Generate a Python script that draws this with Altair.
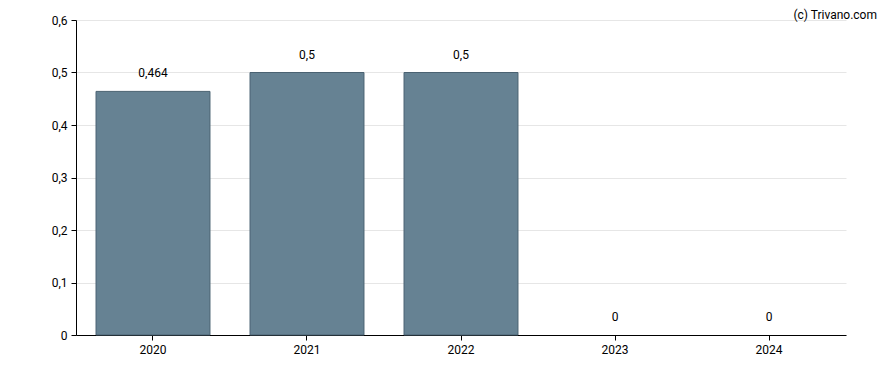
import altair as alt
import pandas as pd

years = ["2020", "2021", "2022", "2023", "2024"]
values = [0.464, 0.5, 0.5, 0, 0]
y_ticks = [0, 0.1, 0.2, 0.3, 0.4, 0.5, 0.6]

df = pd.DataFrame({"year": years, "value": values})

FONT = "Roboto"

base = alt.Chart(df)

bars = base.mark_bar(color="#668293", stroke="#4a6272").encode(
    x=alt.X("year:N", sort=years, title=None,
            scale=alt.Scale(paddingInner=0.26, paddingOuter=0.13),
            axis=alt.Axis(labelAngle=0, domainColor="#000000", tickColor="#000000",
                          tickSize=5, labelPadding=4, labelFont=FONT, labelFontSize=12,
                          labelColor="#000000", grid=False)),
    y=alt.Y("value:Q", title=None,
            scale=alt.Scale(domain=[0, 0.6], nice=False),
            axis=alt.Axis(values=y_ticks, domainColor="#000000", tickColor="#000000",
                          tickSize=5, labelPadding=4, labelFont=FONT, labelFontSize=12,
                          labelColor="#000000", gridColor="#e6e6e6",
                          labelExpr="datum.value == 0 ? '0' : replace(format(datum.value, '.1f'), '.', ',')")),
    strokeWidth=alt.condition("datum.value > 0", alt.value(1), alt.value(0)),
)

labels = base.transform_calculate(
    lbl="replace(toString(datum.value), '.', ',')"
).mark_text(baseline="bottom", dy=-11, font=FONT, fontSize=12, color="#000000").encode(
    x=alt.X("year:N", sort=years),
    y=alt.Y("value:Q"),
    text="lbl:N",
)

credit = alt.Chart(pd.DataFrame({"t": ["(c) Trivano.com"]})).mark_text(
    align="right", baseline="top", font=FONT, fontSize=12, color="#000000"
).encode(x=alt.value(801), y=alt.value(-10), text="t:N")

chart = (bars + labels + credit).properties(
    width=770, height=315,
    autosize=alt.AutoSizeParams(type="none"),
    padding={"left": 68, "top": 12, "right": 34, "bottom": 27},
    view=alt.ViewBackground(strokeWidth=0, stroke="transparent"),
).configure_view(strokeWidth=0, stroke="transparent").configure(background="#ffffff")

chart.save("out.html", embed_options={"renderer": "svg", "actions": False})
